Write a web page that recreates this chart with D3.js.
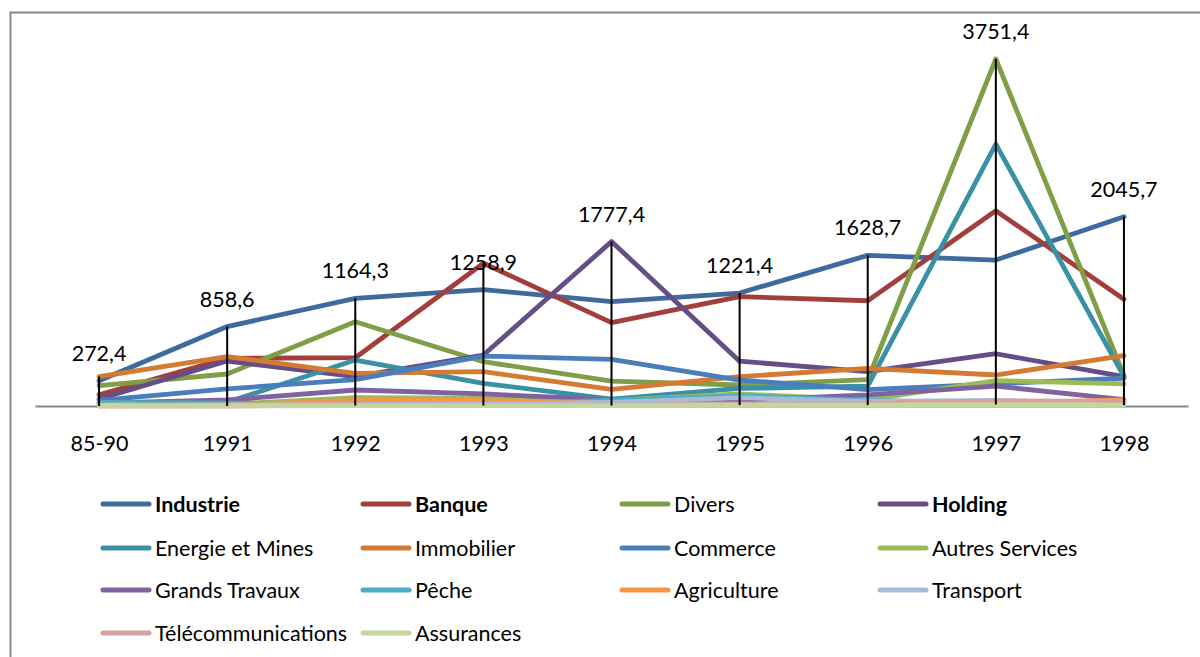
<!DOCTYPE html>
<html>
<head>
<meta charset="utf-8">
<script src="https://cdn.jsdelivr.net/npm/d3@7"></script>
<style>
  html, body { margin: 0; padding: 0; background: #fff; }
  svg { display: block; font-family: Lato, "Open Sans", sans-serif; }
</style>
</head>
<body>
<svg id="chart" width="1200" height="657"></svg>
<script>
const categories = ["85-90", "1991", "1992", "1993", "1994", "1995", "1996", "1997", "1998"];

const industrie        = [272.4, 858.6, 1164.3, 1258.9, 1128, 1221.4, 1628.7, 1578, 2045.7];
const banque           = [120, 515, 522, 1543, 901, 1182, 1138, 2111, 1153];
const divers           = [220, 346, 911, 479, 270, 227, 285, 3751.4, 330];
const holding          = [75, 486, 317, 551, 1777.4, 485, 371, 565, 317];
const energieEtMines   = [30, 40, 497, 245, 75, 190, 215, 2832, 317];
const immobilier       = [317, 533, 353, 371, 180, 317, 407, 335, 544];
const commerce         = [60, 185, 286, 540, 505, 281, 178, 240, 300];
const autresServices   = [20, 20, 90, 85, 60, 130, 65, 275, 240];
const grandsTravaux    = [30, 65, 173, 130, 70, 60, 120, 215, 70];
const peche            = [40, 30, 20, 20, 60, 110, 60, 30, 20];
const agriculture      = [10, 10, 60, 60, 30, 20, 20, 30, 65];
const transport        = [10, 10, 15, 20, 40, 90, 50, 60, 20];
const telecommunications = [0, 0, 5, 5, 10, 20, 30, 55, 50];
const assurances       = [5, 5, 5, 5, 5, 10, 10, 15, 10];

const labelValues = [272.4, 858.6, 1164.3, 1258.9, 1777.4, 1221.4, 1628.7, 3751.4, 2045.7];

const seriesNames = ["Industrie", "Banque", "Divers", "Holding", "Energie et Mines", "Immobilier",
  "Commerce", "Autres Services", "Grands Travaux", "Pêche", "Agriculture", "Transport",
  "Télécommunications", "Assurances"];
const seriesValues = [industrie, banque, divers, holding, energieEtMines, immobilier,
  commerce, autresServices, grandsTravaux, peche, agriculture, transport,
  telecommunications, assurances];
const boldNames = ["Industrie", "Banque", "Holding"];
const colors = ["#3E6A9E", "#A23F3C", "#7F9E47", "#654D87", "#3A91A6", "#D47B33",
  "#4A7EBB", "#9BBB59", "#7F63A1", "#4BACC6", "#F79646", "#A6BBD9",
  "#D9A0A0", "#C3D69B"];

const series = seriesNames.map((name, i) => ({
  name, color: colors[i], bold: boldNames.includes(name),
  values: categories.map((c, j) => ({ c, v: seriesValues[i][j] }))
}));

const FS = 21.5;
const svg = d3.select("#chart");

// outer frame
svg.append("path")
  .attr("d", "M10.5,660 L10.5,12.5 L1200,12.5")
  .attr("fill", "none").attr("stroke", "#888").attr("stroke-width", 2);

const x = d3.scalePoint().domain(categories).range([35, 1188]).padding(0.5);
const y = d3.scaleLinear().domain([0, 4000]).range([406, 36]);

// x axis
const axis = svg.append("g").attr("transform", "translate(0,406)")
  .call(d3.axisBottom(x).tickSize(0).tickSizeOuter(0).tickPadding(30));
axis.select(".domain").attr("stroke", "#868686").attr("stroke-width", 2);
axis.selectAll("text").attr("font-size", FS).attr("fill", "#000")
  .attr("font-family", "Lato, sans-serif");

// series lines
const line = d3.line().x(d => x(d.c)).y(d => y(d.v));
svg.append("g").selectAll("path").data(series).join("path")
  .attr("d", d => line(d.values))
  .attr("fill", "none")
  .attr("stroke", d => d.color)
  .attr("stroke-width", 4.8)
  .attr("stroke-linejoin", "round")
  .attr("stroke-linecap", "round");

// high-low lines
const hl = categories.map((c, j) => ({
  c,
  hi: d3.max(seriesValues, s => s[j]),
  lo: d3.min(seriesValues, s => s[j])
}));
svg.append("g").selectAll("line").data(hl).join("line")
  .attr("x1", d => x(d.c)).attr("x2", d => x(d.c))
  .attr("y1", d => y(d.hi)).attr("y2", d => y(d.lo))
  .attr("stroke", "#000").attr("stroke-width", 2);

// data labels
const loc = d3.formatLocale({ decimal: ",", thousands: "", grouping: [3], currency: ["", ""] });
const fmt = loc.format(".1f");
svg.append("g").selectAll("text").data(categories.map((c, j) => ({ c, v: labelValues[j] })))
  .join("text")
  .attr("x", d => x(d.c))
  .attr("y", d => y(d.v) - 20)
  .attr("text-anchor", "middle")
  .attr("font-size", FS)
  .attr("fill", "#000")
  .text(d => fmt(d.v));

// legend
const colX = [101, 361, 620, 878];
const rowY = [504, 548, 590, 633];
const leg = svg.append("g").selectAll("g").data(series).join("g")
  .attr("transform", (d, i) => `translate(${colX[i % 4]},${rowY[Math.floor(i / 4)]})`);
leg.append("line")
  .attr("x1", 2).attr("x2", 48).attr("y1", 0).attr("y2", 0)
  .attr("stroke", d => d.color).attr("stroke-width", 5).attr("stroke-linecap", "round");
leg.append("text")
  .attr("x", 54).attr("y", 0).attr("dy", "0.35em")
  .attr("font-size", FS)
  .attr("font-weight", d => d.bold ? "bold" : "normal")
  .attr("fill", "#000")
  .text(d => d.name);
</script>
</body>
</html>
